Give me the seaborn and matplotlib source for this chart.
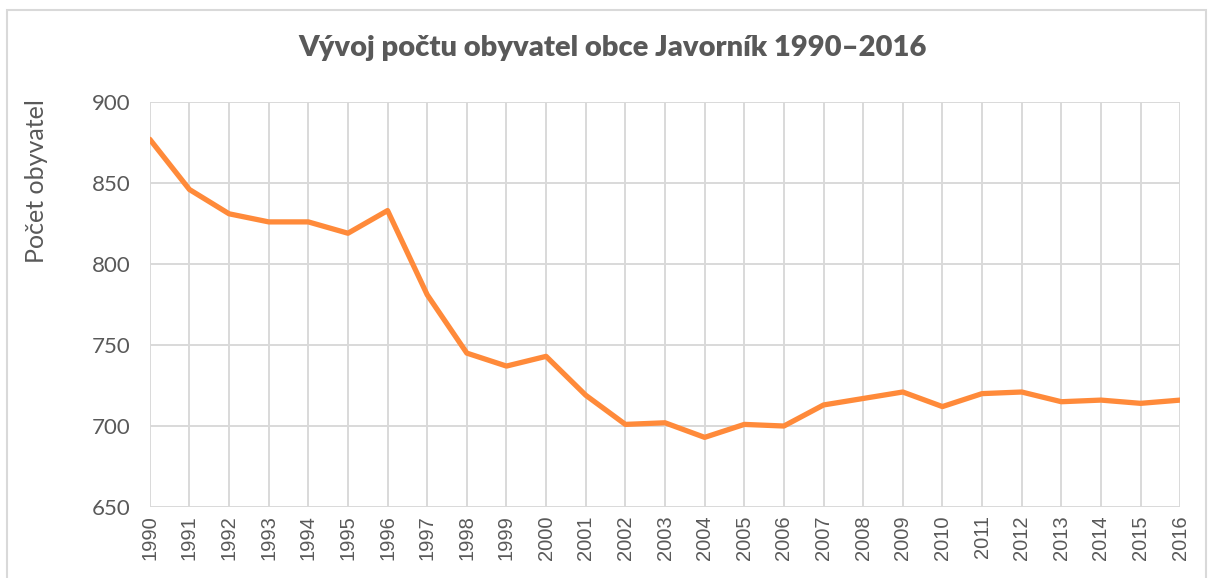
import pandas as pd
import matplotlib
matplotlib.use('Agg')
import matplotlib.pyplot as plt
import seaborn as sns

# Population of Javorník per year
years = list(range(1990, 2017))
population = [877, 846, 831, 826, 826, 819, 833, 781, 745, 737,
              743, 719, 701, 702, 693, 701, 700, 713, 717, 721,
              712, 720, 721, 715, 716, 714, 716]
y_ticks = [650, 700, 750, 800, 850, 900]

df = pd.DataFrame({'rok': years, 'obyvatel': population})

sns.set_theme(style='white')
plt.rcParams['font.family'] = ['Lato', 'DejaVu Sans']

fig = plt.figure(figsize=(12.08, 5.78), dpi=100)
ax = fig.add_axes([0.124, 0.1228, 0.853, 0.7007])

sns.lineplot(data=df, x='rok', y='obyvatel', color='#FF8A3A', linewidth=3.8, ax=ax)

ax.set_xlim(1990, 2016)
ax.set_ylim(650, 900)
ax.set_xticks(years)
ax.set_xticklabels([str(y) for y in years], rotation=90, fontsize=14.5,
                   family='Liberation Sans', color='#595959')
ax.set_yticks(y_ticks)
ax.set_yticklabels([str(v) for v in y_ticks], fontsize=16, color='#595959')
ax.tick_params(axis='x', length=0, pad=6)
ax.tick_params(axis='y', length=0, pad=14)
ax.grid(True, color='#D9D9D9', linewidth=1.4)
ax.set_axisbelow(True)
for s in ax.spines.values():
    s.set_visible(False)
ax.set_xlabel('')
ax.set_ylabel('')

fig.text(0.030, 0.687, 'Počet obyvatel', rotation=90, ha='center', va='center',
         fontsize=18, color='#595959')
fig.text(0.507, 0.917, 'Vývoj počtu obyvatel obce Javorník 1990–2016',
         ha='center', va='center', fontsize=21, fontweight='heavy', color='#595959')

# outer chart border
fig.patches.append(plt.Rectangle((7 / 1208, -0.1), 1199 / 1208, 1.1 - 10 / 578,
                                 transform=fig.transFigure, fill=False,
                                 edgecolor='#D9D9D9', linewidth=1.5))

fig.savefig('out.png', dpi=100)
